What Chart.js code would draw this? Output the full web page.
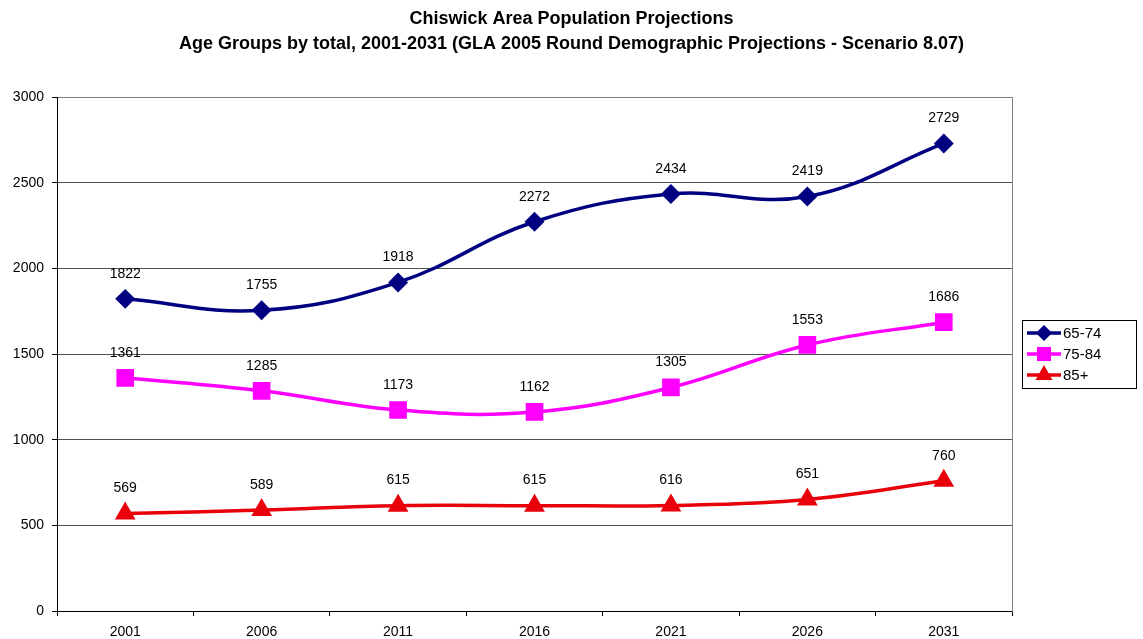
<!DOCTYPE html>
<html>
<head>
<meta charset="utf-8">
<script src="https://cdn.jsdelivr.net/npm/chart.js@4.4.1/dist/chart.umd.min.js"></script>
<style>
  html, body { margin: 0; padding: 0; background: #fff; }
  canvas { display: block; }
</style>
</head>
<body>
<canvas id="chart" width="1143" height="639"></canvas>
<script>
// ── DATA ─────────────────────────────
const years   = ['2001','2006','2011','2016','2021','2026','2031'];
const age6574 = [1822, 1755, 1918, 2272, 2434, 2419, 2729];
const age7584 = [1361, 1285, 1173, 1162, 1305, 1553, 1686];
const age85   = [569, 589, 615, 615, 616, 651, 760];
const seriesNames = ['65-74', '75-84', '85+'];

const FONT = 'Arial, "Liberation Sans", Helvetica, sans-serif';

// value labels above each point
const valueLabels = {
  id: 'valueLabels',
  afterDatasetsDraw(chart) {
    const ctx = chart.ctx;
    ctx.save();
    ctx.font = '14px ' + FONT;
    ctx.fillStyle = '#000';
    ctx.textAlign = 'center';
    ctx.textBaseline = 'middle';
    chart.data.datasets.forEach((ds, i) => {
      chart.getDatasetMeta(i).data.forEach((pt, j) => {
        ctx.fillText(String(ds.data[j]), pt.x, pt.y - 25);
      });
    });
    ctx.restore();
  }
};

// boxed legend with line + marker samples
const boxLegend = {
  id: 'boxLegend',
  afterDraw(chart) {
    const ctx = chart.ctx;
    const x0 = 1022, y0 = 320, w = 114, h = 68;
    ctx.save();
    ctx.fillStyle = '#fff';
    ctx.fillRect(x0, y0, w, h);
    ctx.strokeStyle = '#000';
    ctx.lineWidth = 1;
    ctx.strokeRect(x0 + 0.5, y0 + 0.5, w, h);
    ctx.font = '15px ' + FONT;
    ctx.textBaseline = 'middle';
    chart.data.datasets.forEach((ds, i) => {
      const y = y0 + 13 + i * 21;
      ctx.strokeStyle = ds.borderColor;
      ctx.lineWidth = 3.5;
      ctx.beginPath();
      ctx.moveTo(x0 + 5, y);
      ctx.lineTo(x0 + 39, y);
      ctx.stroke();
      ctx.fillStyle = ds.borderColor;
      Chart.helpers.drawPoint(ctx, {
        pointStyle: ds.pointStyle,
        radius: ds.pointRadius * 0.75,
        borderWidth: 1
      }, x0 + 22, y);
      ctx.fillStyle = '#000';
      ctx.fillText(seriesNames[i], x0 + 41, y + 1);
    });
    ctx.restore();
  }
};

const line = (label, data, color, style, r) => ({
  label, data,
  borderColor: color, backgroundColor: color,
  pointBackgroundColor: color, pointBorderColor: color,
  pointStyle: style, pointRadius: r, pointHoverRadius: r,
  borderWidth: 3.5, tension: 0.4, fill: false
});

new Chart(document.getElementById('chart'), {
  type: 'line',
  data: {
    labels: years,
    datasets: [
      line(seriesNames[0], age6574, '#000080', 'rectRot', 7.5),
      line(seriesNames[1], age7584, '#ff00ff', 'rect', 10),
      line(seriesNames[2], age85,   '#e8000b', 'triangle', 8.5)
    ]
  },
  options: {
    responsive: false,
    animation: false,
    layout: { padding: 0 },
    plugins: {
      legend: { display: false },
      tooltip: { enabled: false },
      title: {
        display: true,
        text: ['Chiswick Area Population Projections',
               'Age Groups by total, 2001-2031 (GLA 2005 Round Demographic Projections - Scenario 8.07)'],
        color: '#000',
        font: { family: FONT, size: 18, weight: 'bold', lineHeight: 1.39 },
        padding: { top: 7, bottom: 40 }
      }
    },
    scales: {
      x: {
        offset: true,
        grid: {
          offset: true, drawOnChartArea: false, drawTicks: true,
          tickLength: 5, color: '#000'
        },
        border: { color: '#000', width: 1 },
        ticks: { color: '#000', font: { family: FONT, size: 14 }, padding: 8, maxRotation: 0 },
        afterFit: s => { s.height = 28; }
      },
      y: {
        min: 0, max: 3000,
        ticks: {
          stepSize: 500, color: '#000', font: { family: FONT, size: 14 }, padding: 8,
          callback: v => String(v)
        },
        grid: {
          color: c => c.tick && c.tick.value === 3000 ? '#808080' : '#505050',
          tickColor: '#000', tickLength: 5, lineWidth: 1
        },
        border: { color: '#000', width: 1 },
        afterFit: s => { s.width = 57; }
      },
      // empty right axis: grey frame line + room for the legend
      yRight: {
        position: 'right',
        min: 0, max: 3000,
        ticks: { display: false },
        grid: { display: false, drawTicks: false },
        border: { color: '#808080', width: 1 },
        afterFit: s => { s.width = 131; }
      }
    }
  },
  plugins: [valueLabels, boxLegend]
});
</script>
</body>
</html>
